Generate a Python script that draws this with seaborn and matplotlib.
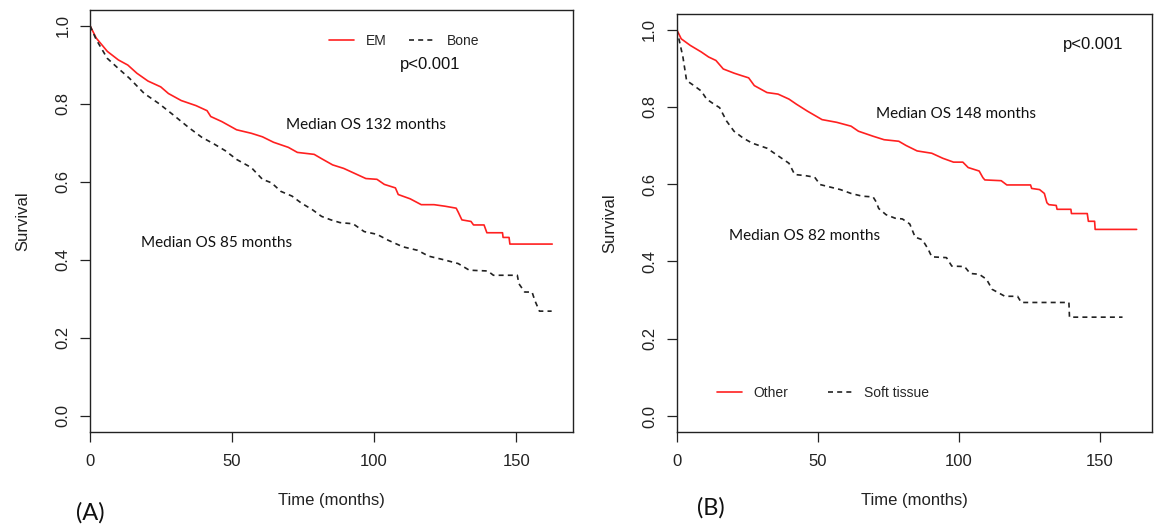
import numpy as np
import pandas as pd
import matplotlib
matplotlib.use("Agg")
import matplotlib.pyplot as plt
import seaborn as sns

# Panel A: EM vs Bone
em_t = [0, 2.2, 6.1, 10, 13.3, 16.5, 20.4, 24.9, 27.6, 32.1, 37.3, 41.2, 42.5, 46.4, 51.6,
        56.8, 60.7, 64.6, 69.8, 73, 78.9, 81.5, 85.4, 89.3, 93.2, 97.1, 101, 103.6, 107.5,
        108.5, 112.7, 116.6, 121.1, 125, 128.9, 129.6, 130.9, 134.1, 135, 138.7, 139.7,
        145.2, 145.4, 147.5, 147.8, 162.7]
em_s = [1.0, 0.968, 0.934, 0.912, 0.899, 0.878, 0.858, 0.843, 0.826, 0.808, 0.795, 0.782,
        0.767, 0.754, 0.733, 0.724, 0.715, 0.701, 0.688, 0.675, 0.670, 0.659, 0.643, 0.634,
        0.621, 0.608, 0.606, 0.593, 0.584, 0.567, 0.556, 0.541, 0.541, 0.537, 0.532, 0.522,
        0.502, 0.498, 0.489, 0.489, 0.469, 0.469, 0.457, 0.457, 0.440, 0.440]

bone_t = [0, 2.2, 6.1, 10, 13.9, 19.1, 24.3, 29.5, 34.7, 39.3, 43.8, 47.7, 51.6, 56.8, 60.7,
          63.9, 67.2, 71.1, 74.4, 78.3, 81.5, 84.8, 88, 92.6, 96.5, 101, 104.9, 110.1, 115.3,
          119.2, 124.4, 129.6, 133.5, 140, 142, 150.4, 151, 153, 155.6, 156.6, 158.2, 162.5]
bone_s = [1.0, 0.964, 0.916, 0.890, 0.865, 0.826, 0.800, 0.770, 0.739, 0.714, 0.696, 0.679,
          0.657, 0.636, 0.606, 0.597, 0.575, 0.563, 0.545, 0.528, 0.511, 0.502, 0.495, 0.492,
          0.472, 0.465, 0.450, 0.433, 0.424, 0.409, 0.400, 0.390, 0.373, 0.371, 0.360, 0.360,
          0.338, 0.317, 0.317, 0.295, 0.268, 0.268]

# Panel B: Other vs Soft tissue
oth_t = [0, 1.6, 4.8, 8.7, 11.3, 13.9, 16.5, 20.4, 22.9, 25.5, 27.5, 32, 35.9, 39.8, 42.4,
         46.3, 51.5, 56.7, 61.8, 64.4, 69.6, 73.5, 78.7, 81.3, 85.2, 90.4, 94.3, 98.1, 101.4,
         103.3, 107.2, 108.5, 109.2, 115, 117, 125.4, 125.8, 128.6, 130.3, 131.2, 131.9,
         134.5, 134.8, 139.7, 139.9, 145.5, 145.9, 148.1, 148.3, 163]
oth_s = [1.0, 0.976, 0.959, 0.942, 0.929, 0.920, 0.898, 0.887, 0.881, 0.875, 0.855, 0.837,
         0.833, 0.820, 0.807, 0.789, 0.767, 0.760, 0.750, 0.737, 0.724, 0.715, 0.711, 0.700,
         0.686, 0.680, 0.667, 0.657, 0.657, 0.643, 0.634, 0.617, 0.611, 0.609, 0.598, 0.598,
         0.589, 0.586, 0.576, 0.552, 0.547, 0.545, 0.535, 0.535, 0.524, 0.524, 0.504, 0.504,
         0.483, 0.483]

soft_t = [0, 0.9, 2.2, 3.5, 6.1, 8.7, 10.6, 13.2, 15.2, 17.7, 20.3, 23.6, 26.8, 32, 34.6,
          37.2, 39.8, 41.8, 45.7, 48.9, 50.8, 54.1, 58, 61.8, 65.7, 69.6, 70.7, 71.6, 74.2,
          77.4, 80, 82.6, 84.5, 87.1, 89.1, 90.4, 95.6, 97.5, 102, 104, 107.2, 109.8, 111.8,
          116.3, 120.8, 122.1, 139, 139.2, 158]
soft_s = [1.0, 0.972, 0.929, 0.868, 0.855, 0.841, 0.820, 0.807, 0.798, 0.763, 0.737, 0.719,
          0.706, 0.693, 0.680, 0.667, 0.654, 0.625, 0.622, 0.618, 0.599, 0.593, 0.586, 0.576,
          0.569, 0.567, 0.554, 0.537, 0.521, 0.512, 0.510, 0.497, 0.463, 0.456, 0.432, 0.412,
          0.410, 0.388, 0.387, 0.369, 0.367, 0.354, 0.328, 0.310, 0.310, 0.294, 0.294, 0.256,
          0.256]

sns.set_style("white")
plt.rcParams['font.family'] = ['Liberation Sans', 'DejaVu Sans']

fig = plt.figure(figsize=(11.54, 5.29), dpi=100)
axA = fig.add_axes([0.078, 0.184, 0.4185, 0.797])
axB = fig.add_axes([0.5864, 0.1834, 0.412, 0.79])

dark = "#222222"
red = "#ff2020"


def style_axes(ax, xmax):
    ax.set_xlim(0, xmax)
    ax.set_ylim(-0.041, 1.04)
    ax.set_xticks([0, 50, 100, 150])
    ax.set_yticks([0, 0.2, 0.4, 0.6, 0.8, 1.0])
    ax.set_yticklabels(["0.0", "0.2", "0.4", "0.6", "0.8", "1.0"], rotation=90, va="center")
    ax.tick_params(direction="out", length=7.2, width=0.9, colors=dark, labelsize=12,
                   left=True, bottom=True)
    ax.tick_params(axis="x", pad=9)
    ax.tick_params(axis="y", pad=7)
    for s in ax.spines.values():
        s.set_color(dark)
        s.set_linewidth(1.0)
    ax.set_xlabel("Time (months)", fontsize=12, color=dark, labelpad=17)
    ax.set_ylabel("Survival", fontsize=12, color=dark, labelpad=18)


# Panel A
dfA1 = pd.DataFrame({"t": em_t, "s": em_s})
dfA2 = pd.DataFrame({"t": bone_t, "s": bone_s})
sns.lineplot(data=dfA1, x="t", y="s", ax=axA, color=red, lw=1.2, label="EM",
             sort=False, estimator=None)
sns.lineplot(data=dfA2, x="t", y="s", ax=axA, color=dark, lw=1.2, label="Bone",
             sort=False, estimator=None, dashes=False, linestyle=(0, (3, 2.5)))
style_axes(axA, 170)
axA.legend(loc="center left", bbox_to_anchor=(0.494, 0.9265), ncol=2, frameon=False,
           fontsize=10, handlelength=1.8, handletextpad=0.9, columnspacing=1.6,
           borderpad=0, borderaxespad=0)
axA.text(109, 0.90, "p<0.001", fontsize=12, va="center", ha="left", color="#111111")
axA.text(69, 0.744, "Median OS 132 months", fontsize=11, va="center", ha="left",
         family=["Lato", "DejaVu Sans"], color="#111111")
axA.text(17.8, 0.442, "Median OS 85 months", fontsize=11, va="center", ha="left",
         family=["Lato", "DejaVu Sans"], color="#111111")

# Panel B
dfB1 = pd.DataFrame({"t": oth_t, "s": oth_s})
dfB2 = pd.DataFrame({"t": soft_t, "s": soft_s})
sns.lineplot(data=dfB1, x="t", y="s", ax=axB, color=red, lw=1.2, label="Other",
             sort=False, estimator=None)
sns.lineplot(data=dfB2, x="t", y="s", ax=axB, color=dark, lw=1.2, label="Soft tissue",
             sort=False, estimator=None, dashes=False, linestyle=(0, (3, 2.5)))
style_axes(axB, 168.5)
axB.legend(loc="center left", bbox_to_anchor=(0.0848, 0.094), ncol=2, frameon=False,
           fontsize=10, handlelength=1.8, handletextpad=0.8, columnspacing=2.9,
           borderpad=0, borderaxespad=0)
axB.text(136.8, 0.961, "p<0.001", fontsize=12, va="center", ha="left", color="#111111")
axB.text(70.7, 0.781, "Median OS 148 months", fontsize=11, va="center", ha="left",
         family=["Lato", "DejaVu Sans"], color="#111111")
axB.text(18.5, 0.466, "Median OS 82 months", fontsize=11, va="center", ha="left",
         family=["Lato", "DejaVu Sans"], color="#111111")

fig.text(90 / 1154, 1 - 513 / 529, "(A)", fontsize=17, ha="center", va="center",
         family=["Lato", "DejaVu Sans"], color="#111111")
fig.text(711 / 1154, 1 - 508 / 529, "(B)", fontsize=17, ha="center", va="center",
         family=["Lato", "DejaVu Sans"], color="#111111")

fig.savefig("out.png", dpi=100)
